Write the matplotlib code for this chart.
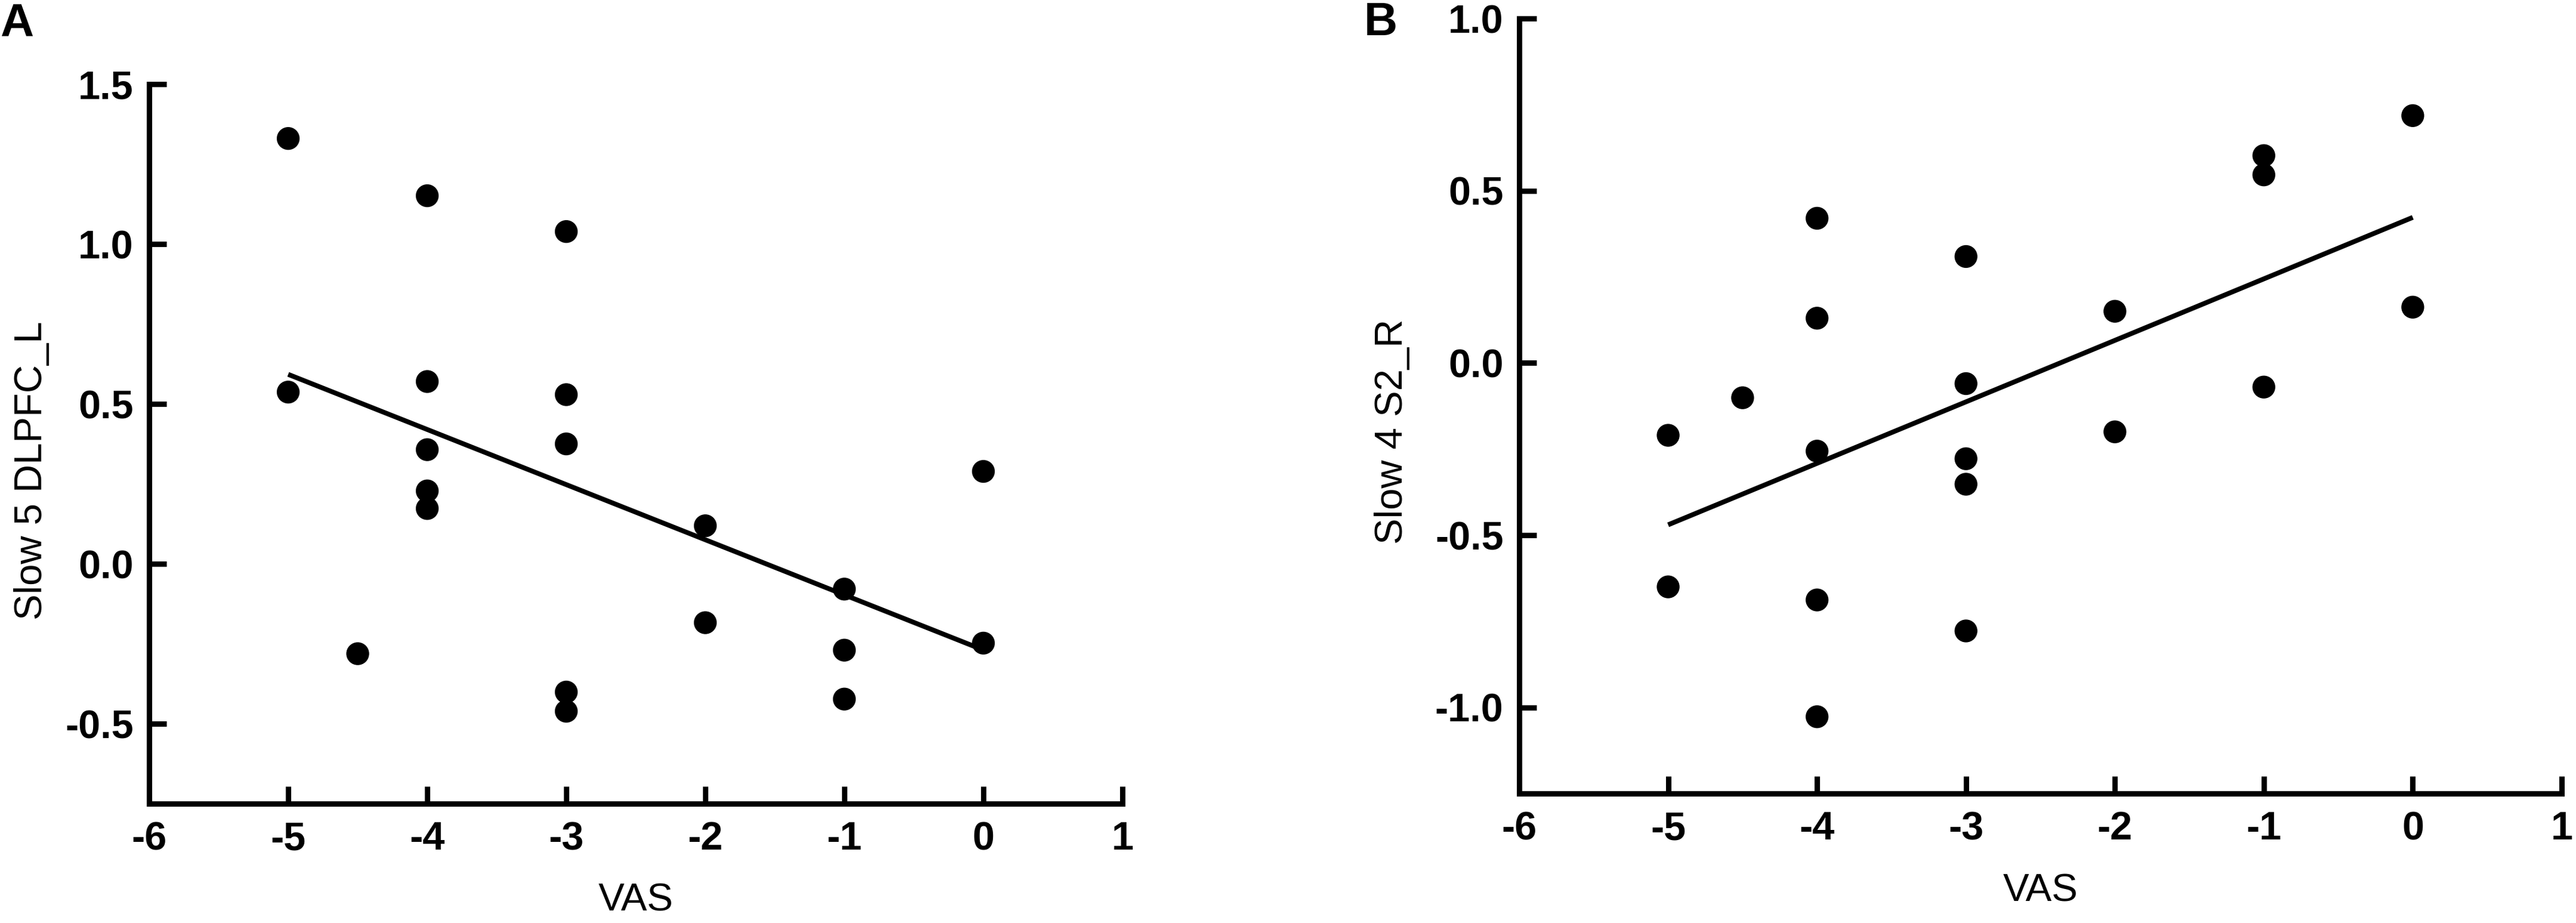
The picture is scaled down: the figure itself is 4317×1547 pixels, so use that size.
import numpy as np
import matplotlib
matplotlib.use("Agg")
import matplotlib.pyplot as plt

# ---- data ----
vas_a = [-5, -5, -4.5, -4, -4, -4, -4, -4, -3, -3, -3, -3, -3, -2, -2, -1, -1, -1, 0, 0]
slow5_dlpfc_l = [1.33, 0.537, -0.281, 1.151, 0.570, 0.357, 0.228, 0.173, 1.039, 0.529,
                 0.375, -0.401, -0.461, 0.119, -0.184, -0.079, -0.270, -0.423, 0.289, -0.248]

vas_b = [-5, -5, -4.5, -4, -4, -4, -4, -4, -3, -3, -3, -3, -3, -2, -2, -1, -1, -1, 0, 0]
slow4_s2_r = [-0.210, -0.650, -0.101, 0.420, 0.130, -0.256, -0.688, -1.027, 0.309, -0.060,
              -0.278, -0.352, -0.778, 0.150, -0.200, 0.602, 0.546, -0.070, 0.718, 0.162]

xticks = [-6, -5, -4, -3, -2, -1, 0, 1]
yticks_a = [-0.5, 0.0, 0.5, 1.0, 1.5]
yticks_b = [-1.0, -0.5, 0.0, 0.5, 1.0]

W, H = 4317, 1547
DPI = 100
fig = plt.figure(figsize=(W / DPI, H / DPI), dpi=DPI)
fig.patch.set_facecolor("white")

tick_font = ["Liberation Sans Narrow", "Liberation Sans", "DejaVu Sans"]
label_font = ["Liberation Sans", "DejaVu Sans"]


def panel(rect, x, y, ylim, yticks, ylabel, letter, letter_pos, ylabel_pos, xlabel_pos):
    ax = fig.add_axes(rect)
    ax.scatter(x, y, s=760, color="black", edgecolors="none", zorder=3)
    xs = np.array(x, dtype=float)
    ys = np.array(y, dtype=float)
    m, b = np.polyfit(xs, ys, 1)
    xl = np.array([xs.min(), xs.max()])
    ax.plot(xl, m * xl + b, color="black", lw=5.8, solid_capstyle="butt", zorder=2)
    ax.set_xlim(-6, 1)
    ax.set_ylim(*ylim)
    for s in ("top", "right"):
        ax.spines[s].set_visible(False)
    for s in ("left", "bottom"):
        ax.spines[s].set_linewidth(6.5)
        ax.spines[s].set_capstyle("projecting")
    ax.set_xticks(xticks)
    ax.set_xticklabels([str(t) for t in xticks])
    ax.set_yticks(yticks)
    ax.set_yticklabels(["%.1f" % t for t in yticks])
    ax.tick_params(axis="both", direction="in", length=21, width=6.5)
    ax.tick_params(axis="x", pad=21)
    ax.tick_params(axis="y", pad=19)
    for lab in ax.get_xticklabels() + ax.get_yticklabels():
        lab.set_fontfamily(tick_font)
        lab.set_fontweight("bold")
        lab.set_fontsize(48)
    ax.set_xlabel("VAS", fontsize=47, family=label_font)
    ax.set_ylabel(ylabel, fontsize=47, family=label_font)
    ax.xaxis.set_label_coords(*xlabel_pos)
    ax.yaxis.set_label_coords(*ylabel_pos)
    ax.xaxis.label.set_va("center")
    ax.yaxis.label.set_va("center")
    fig.text(letter_pos[0], letter_pos[1], letter, fontsize=56, fontweight="bold",
             family=label_font, ha="left", va="top")
    return ax


# panel A
panel([250 / W, 1 - 1347 / H, 1631 / W, 1206 / H], vas_a, slow5_dlpfc_l,
      (-0.75, 1.5), yticks_a, "Slow 5 DLPFC_L", "A", (0 / W, 1 - 4 / H),
      (-0.121, 0.463), (0.5, -0.135))

# panel B
panel([2546 / W, 1 - 1330 / H, 1747 / W, 1299 / H], vas_b, slow4_s2_r,
      (-1.25, 1.0), yticks_b, "Slow 4 S2_R", "B", (2286 / W, 1 - 2 / H),
      (-0.122, 0.467), (0.5, -0.126))

fig.savefig("out.png", dpi=DPI, facecolor="white")
